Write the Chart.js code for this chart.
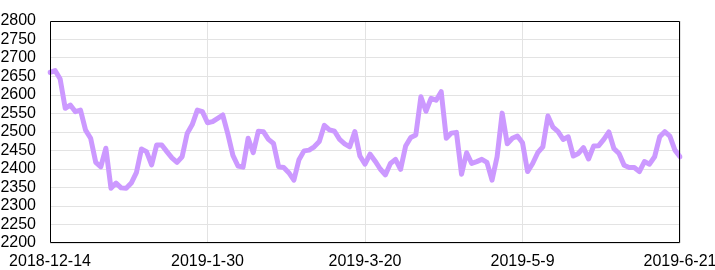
<!DOCTYPE html>
<html>
<head>
<meta charset="utf-8">
<script src="https://cdn.jsdelivr.net/npm/chart.js@4/dist/chart.umd.min.js"></script>
<style>
  html, body { margin: 0; padding: 0; background: #ffffff; }
  #c { display: block; }
</style>
</head>
<body>
<canvas id="c" width="715" height="270"></canvas>
<script>
// Categories (trading days)
const dates = [
  "2018-12-14","2018-12-17","2018-12-18","2018-12-19","2018-12-20","2018-12-21","2018-12-24","2018-12-25","2018-12-26","2018-12-27",
  "2018-12-28","2019-1-2","2019-1-3","2019-1-4","2019-1-7","2019-1-8","2019-1-9","2019-1-10","2019-1-11","2019-1-14",
  "2019-1-15","2019-1-16","2019-1-17","2019-1-18","2019-1-21","2019-1-22","2019-1-23","2019-1-24","2019-1-25","2019-1-28",
  "2019-1-29","2019-1-30","2019-1-31","2019-2-1","2019-2-2","2019-2-11","2019-2-12","2019-2-13","2019-2-14","2019-2-15",
  "2019-2-18","2019-2-19","2019-2-20","2019-2-21","2019-2-22","2019-2-25","2019-2-26","2019-2-27","2019-2-28","2019-3-1",
  "2019-3-4","2019-3-5","2019-3-6","2019-3-7","2019-3-8","2019-3-11","2019-3-12","2019-3-13","2019-3-14","2019-3-15",
  "2019-3-18","2019-3-19","2019-3-20","2019-3-21","2019-3-22","2019-3-25","2019-3-26","2019-3-27","2019-3-28","2019-3-29",
  "2019-4-1","2019-4-2","2019-4-3","2019-4-4","2019-4-8","2019-4-9","2019-4-10","2019-4-11","2019-4-12","2019-4-15",
  "2019-4-16","2019-4-17","2019-4-18","2019-4-19","2019-4-22","2019-4-23","2019-4-24","2019-4-25","2019-4-26","2019-4-29",
  "2019-5-6","2019-5-7","2019-5-8","2019-5-9","2019-5-10","2019-5-13","2019-5-14","2019-5-15","2019-5-16","2019-5-17",
  "2019-5-20","2019-5-21","2019-5-22","2019-5-23","2019-5-24","2019-5-27","2019-5-28","2019-5-29","2019-5-30","2019-5-31",
  "2019-6-3","2019-6-4","2019-6-5","2019-6-6","2019-6-7","2019-6-10","2019-6-11","2019-6-12","2019-6-13","2019-6-14",
  "2019-6-17","2019-6-18","2019-6-19","2019-6-20","2019-6-21"
];

// Series values
const values = [
  2661,2666,2643,2564,2573,2555,2559,2505,2483,2418,
  2406,2456,2348,2362,2349,2348,2362,2390,2454,2447,
  2411,2465,2465,2447,2430,2418,2433,2496,2520,2559,
  2555,2525,2528,2537,2546,2495,2437,2408,2405,2483,
  2444,2502,2501,2480,2469,2406,2404,2390,2370,2425,
  2449,2451,2460,2474,2518,2506,2502,2480,2468,2460,
  2501,2435,2413,2440,2421,2400,2384,2415,2426,2399,
  2462,2485,2492,2595,2556,2591,2586,2609,2483,2497,
  2499,2386,2444,2415,2420,2426,2418,2370,2433,2551,
  2468,2483,2489,2471,2393,2415,2444,2460,2543,2513,
  2501,2480,2487,2435,2442,2458,2427,2462,2463,2480,
  2500,2455,2442,2410,2404,2404,2393,2420,2413,2433,
  2487,2501,2489,2451,2433
];

// Tick labels shown on the x axis
const xTickLabels = ["2018-12-14","2019-1-30","2019-3-20","2019-5-9","2019-6-21"];

// Y axis range
const yMin = 2200, yMax = 2800, yStep = 50;

const FONT = { family: "'Liberation Sans', Arial, sans-serif", size: 16 };

const framePlugin = {
  id: 'frame',
  afterDraw(chart) {
    const a = chart.chartArea, ctx = chart.ctx;
    ctx.save();
    ctx.strokeStyle = '#000000';
    ctx.lineWidth = 1;
    ctx.beginPath();
    ctx.rect(Math.round(a.left) + 0.5, Math.round(a.top) + 0.5,
             Math.round(a.right - a.left) - 1, Math.round(a.bottom - a.top) - 1);
    ctx.stroke();
    ctx.restore();
  }
};

new Chart(document.getElementById('c'), {
  type: 'line',
  data: {
    labels: dates,
    datasets: [{
      data: values,
      borderColor: '#cc99ff',
      borderWidth: 5,
      borderJoinStyle: 'round',
      borderCapStyle: 'round',
      pointRadius: 0,
      pointHoverRadius: 0,
      tension: 0,
      fill: false
    }]
  },
  options: {
    responsive: false,
    devicePixelRatio: 1,
    animation: false,
    layout: { padding: { top: 21, right: 35, bottom: 0, left: 0 } },
    plugins: { legend: { display: false }, tooltip: { enabled: false } },
    scales: {
      x: {
        type: 'category',
        offset: false,
        grid: { color: '#e3e3e3', lineWidth: 1, drawTicks: false },
        border: { display: false },
        afterBuildTicks(scale) {
          scale.ticks = scale.ticks.filter(t => xTickLabels.includes(dates[t.value]));
        },
        afterFit(scale) {
          scale.paddingLeft = 0; scale.paddingRight = 0;
          scale.height = 27;
        },
        ticks: {
          autoSkip: false,
          maxRotation: 0,
          minRotation: 0,
          padding: 9,
          color: '#000000',
          font: FONT,
          callback(value) { return dates[value]; }
        }
      },
      y: {
        min: yMin,
        max: yMax,
        grid: { color: '#e3e3e3', lineWidth: 1, drawTicks: false },
        border: { display: false },
        afterFit(scale) {
          scale.paddingTop = 0; scale.paddingBottom = 0;
          scale.width = 50;
        },
        ticks: {
          stepSize: yStep,
          autoSkip: false,
          padding: 14,
          color: '#000000',
          font: FONT,
          callback(value) { return String(value); }
        }
      }
    }
  },
  plugins: [framePlugin]
});
</script>
</body>
</html>
